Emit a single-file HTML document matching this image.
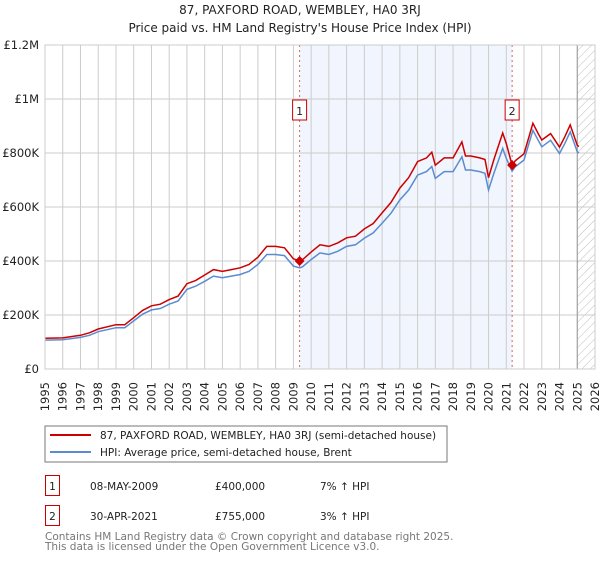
<!DOCTYPE html>
<html><head><meta charset="utf-8"><style>
body{margin:0;background:#fff;font-family:"DejaVu Sans","Liberation Sans",sans-serif;}
svg text{font-family:"DejaVu Sans","Liberation Sans",sans-serif;}
</style></head><body>
<svg id="chart" width="600" height="560" xmlns="http://www.w3.org/2000/svg">
<defs><pattern id="hatch" width="6" height="6" patternUnits="userSpaceOnUse" patternTransform="rotate(45)"><line x1="0" y1="0" x2="0" y2="6" stroke="#bbb" stroke-width="1"/></pattern></defs>
<text x="300" y="14" text-anchor="middle" font-size="12" fill="#222">87, PAXFORD ROAD, WEMBLEY, HA0 3RJ</text>
<text x="300" y="32" text-anchor="middle" font-size="12" fill="#222">Price paid vs. HM Land Registry's House Price Index (HPI)</text>
<g id="plot"></g>
<rect x="45" y="426" width="402" height="36" fill="#fff" stroke="#777"/>
<line x1="50" y1="435" x2="91" y2="435" stroke="#cc0000" stroke-width="2"/>
<text x="100" y="439" font-size="10.5" fill="#222">87, PAXFORD ROAD, WEMBLEY, HA0 3RJ (semi-detached house)</text>
<line x1="50" y1="452" x2="91" y2="452" stroke="#5b8bd0" stroke-width="2"/>
<text x="100" y="456" font-size="10.5" fill="#222">HPI: Average price, semi-detached house, Brent</text>
<rect x="45.5" y="475.5" width="14" height="20" fill="none" stroke="#cc0000"/>
<text x="52.5" y="490" font-size="10.5" text-anchor="middle" fill="#222">1</text>
<text x="90" y="490" font-size="10.5" fill="#222">08-MAY-2009</text>
<text x="215" y="490" font-size="10.5" fill="#222">£400,000</text>
<text x="320" y="490" font-size="10.5" fill="#222">7% ↑ HPI</text>
<rect x="45.5" y="505.5" width="14" height="20" fill="none" stroke="#cc0000"/>
<text x="52.5" y="520" font-size="10.5" text-anchor="middle" fill="#222">2</text>
<text x="90" y="520" font-size="10.5" fill="#222">30-APR-2021</text>
<text x="215" y="520" font-size="10.5" fill="#222">£755,000</text>
<text x="320" y="520" font-size="10.5" fill="#222">3% ↑ HPI</text>
<text x="45" y="540" font-size="10.5" fill="#777">Contains HM Land Registry data © Crown copyright and database right 2025.</text>
<text x="45" y="550" font-size="10.5" fill="#777">This data is licensed under the Open Government Licence v3.0.</text>
</svg>
<script>
const years=[1995,1996,1997,1997.5,1998,1999,1999.5,2000,2000.5,2001,2001.5,2002,2002.5,2003,2003.5,2004,2004.5,2005,2005.5,2006,2006.5,2007,2007.5,2008,2008.5,2009,2009.35,2009.5,2010,2010.5,2011,2011.5,2012,2012.5,2013,2013.5,2014,2014.5,2015,2015.5,2016,2016.5,2016.8,2017,2017.5,2018,2018.5,2018.7,2019,2019.5,2019.8,2020,2020.3,2020.8,2021,2021.33,2021.5,2022,2022.5,2022.8,2023,2023.5,2024,2024.3,2024.6,2025,2025.1];
const hpiValues=[107,108,117,125,138,153,153,178,203,219,224,240,252,295,307,325,344,338,344,350,362,387,424,424,420,381,375,378,405,430,424,436,454,460,485,504,540,577,626,663,718,731,750,706,731,731,786,737,737,731,725,663,725,817,780,733,749,774,884,847,823,847,798,835,878,804,800];
const priceValues=[114,115,125,134,148,164,164,190,217,234,240,257,270,316,328,348,368,362,368,375,387,414,454,454,449,408,400,404,433,460,454,467,486,492,519,539,578,617,670,709,768,782,803,755,782,782,841,789,789,782,776,709,776,874,835,755,771,797,910,872,848,872,822,860,904,828,824];
const yTicks=[0,200,400,600,800,1000,1200];
const yTickLabels=["£0","£200K","£400K","£600K","£800K","£1M","£1.2M"];
const xTicks=[1995,1996,1997,1998,1999,2000,2001,2002,2003,2004,2005,2006,2007,2008,2009,2010,2011,2012,2013,2014,2015,2016,2017,2018,2019,2020,2021,2022,2023,2024,2025,2026];
const saleYears=[2009.35,2021.33];
const salePrices=[400,755];
const saleLabels=["1","2"];

const L=45,R=595,T=45,B=369;
const X=y=>L+(y-1995)/(2026-1995)*(R-L);
const Y=v=>B-v/1200*(B-T);
const g=document.getElementById('plot');
const NS="http://www.w3.org/2000/svg";
function mk(t,a,p){const e=document.createElementNS(NS,t);for(const k in a)e.setAttribute(k,a[k]);(p||g).appendChild(e);return e;}

let e=mk('rect',{x:X(saleYears[0]),y:T,width:X(saleYears[1])-X(saleYears[0]),height:B-T,fill:'#eef3fd',opacity:0.8});


e=mk('rect',{x:X(2025),y:T,width:R-X(2025),height:B-T,fill:'url(#hatch)'});


xTicks.forEach(t=>{
  let l=mk('line',{x1:X(t),x2:X(t),y1:T,y2:B,stroke:'#ccc','stroke-width':1});
  
  
  let tx=mk('text',{x:0,y:0,'font-size':11.5,fill:'#222','text-anchor':'end',transform:`translate(${X(t)+4},382) rotate(-90)`});
  tx.textContent=t;
  
  
});
yTicks.forEach((t,i)=>{
  let l=mk('line',{x1:L,x2:R,y1:Y(t),y2:Y(t),stroke:'#ccc','stroke-width':1});
  
  
  let tx=mk('text',{x:39,y:Y(t)+4,'font-size':11.5,fill:'#222','text-anchor':'end'});
  tx.textContent=yTickLabels[i];
  
  
});
e=mk('line',{x1:X(2025),x2:X(2025),y1:T,y2:B,stroke:'#999'});


saleYears.forEach((s,i)=>{
  let l=mk('line',{x1:X(s),x2:X(s),y1:T,y2:B,stroke:'#e06060','stroke-dasharray':'2,3'});
  
  
});
const pts=a=>years.map((y,i)=>X(y).toFixed(1)+','+Y(a[i]).toFixed(1)).join(' ');
e=mk('polyline',{points:pts(hpiValues),fill:'none',stroke:'#5b8bd0','stroke-width':1.5});


e=mk('polyline',{points:pts(priceValues),fill:'none',stroke:'#cc0000','stroke-width':1.5});


saleYears.forEach((s,i)=>{
  const cx=X(s),cy=Y(salePrices[i]);
  let d=mk('polygon',{points:`${cx},${cy-5} ${cx+5},${cy} ${cx},${cy+5} ${cx-5},${cy}`,fill:'#cc0000'});
  
  
  let b=mk('rect',{x:cx-7,y:100,width:14,height:20,fill:'#fff',stroke:'#cc0000'});
  
  
  let t=mk('text',{x:cx,y:115,'font-size':11,'text-anchor':'middle',fill:'#222'});
  t.textContent=saleLabels[i];
  
  
});
e=mk('rect',{x:L,y:T,width:R-L,height:B-T,fill:'none',stroke:'#ccc'});


</script>
</body></html>
